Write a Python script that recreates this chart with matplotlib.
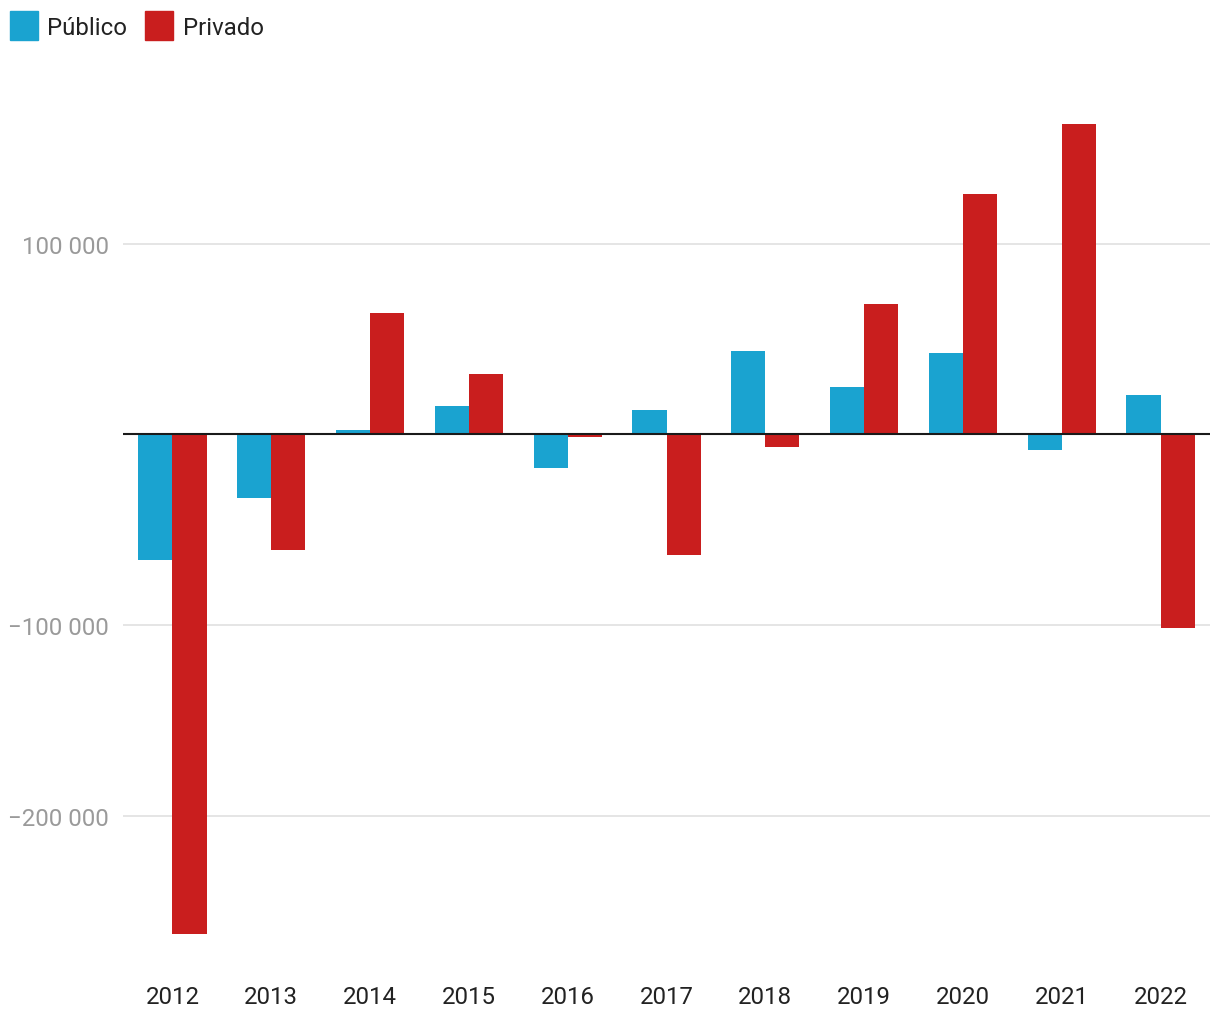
import matplotlib
matplotlib.use("Agg")
import matplotlib.pyplot as plt
import numpy as np
from matplotlib.patches import Patch
from matplotlib.ticker import FuncFormatter

plt.rcParams['font.family'] = ['Roboto', 'DejaVu Sans']

years = ['2012', '2013', '2014', '2015', '2016', '2017', '2018', '2019', '2020', '2021', '2022']
publico = [-66000, -33600, 2100, 14700, -17800, 12600, 43500, 24600, 42500, -8400, 20500]
privado = [-262000, -60800, 63400, 31500, -1600, -63400, -6800, 68200, 125800, 162600, -101700]

blue = '#1aa3d0'
red = '#c91e1e'

fig = plt.figure(figsize=(12.2, 10.2), dpi=100)
# axes in figure fractions: left 123px, right 1210px, top 54px, bottom 969px
ax = fig.add_axes([123 / 1220, 1 - 969 / 1020, (1210 - 123) / 1220, (969 - 54) / 1020])

x = np.arange(len(years))
w = 0.345
ax.bar(x - w / 2, publico, w, color=blue, zorder=3)
ax.bar(x + w / 2, privado, w, color=red, zorder=3)

ax.set_xlim(-0.5, len(years) - 0.5)
ax.set_ylim(-280000, 200000)
ax.set_yticks([-200000, -100000, 100000])
ax.yaxis.set_major_formatter(FuncFormatter(
    lambda v, p: ('\u2212' if v < 0 else '') + f"{abs(int(v)):,}".replace(',', ' ')))
ax.grid(axis='y', color='#e0e0e0', linewidth=1.2, zorder=0)
ax.axhline(0, color='#1a1a1a', linewidth=1.5, zorder=4)

ax.set_xticks(x)
ax.set_xticklabels(years)
ax.tick_params(axis='x', length=0, pad=12, labelsize=17.3, labelcolor='#222222')
ax.tick_params(axis='y', length=0, pad=10, labelsize=17.3, labelcolor='#9a9a9a')
for s in ax.spines.values():
    s.set_visible(False)

handles = [Patch(color=blue, label='Público'), Patch(color=red, label='Privado')]
fig.legend(handles=handles, loc='upper left', bbox_to_anchor=(10 / 1220, 1 - 12 / 1020), ncol=2,
           frameon=False, fontsize=17.3, handlelength=1.17, handleheight=1.5,
           handletextpad=0.38, columnspacing=0.75, borderpad=0, borderaxespad=0,
           labelcolor='#222222')

fig.savefig('out.png', dpi=100)
